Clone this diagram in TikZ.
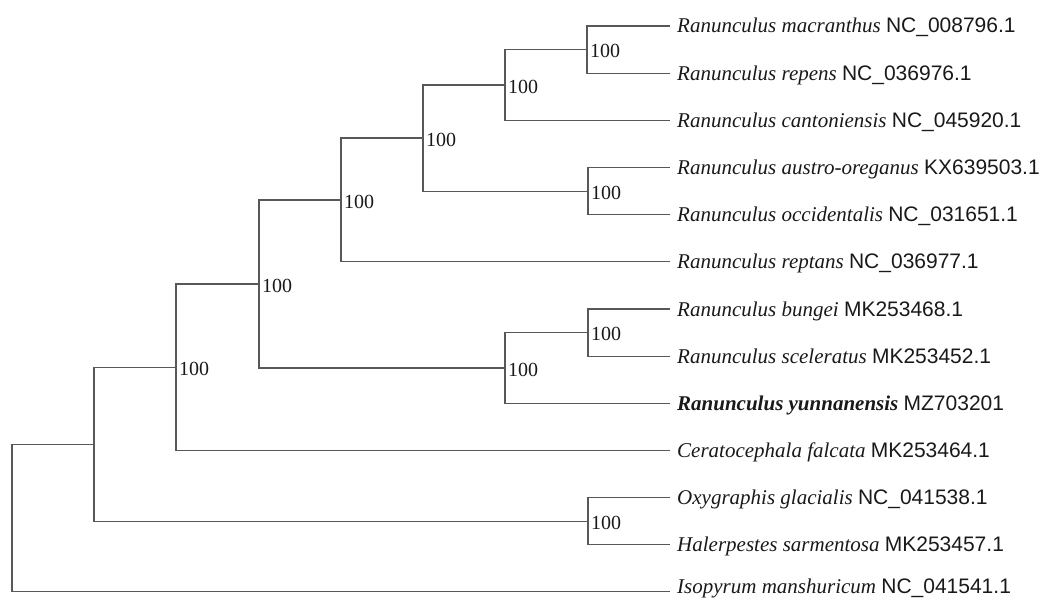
\documentclass[tikz,border=0pt]{standalone}
\usepackage{fontspec}
\setmainfont{Liberation Serif}
\newfontfamily\arial{Liberation Sans}
\definecolor{brc}{RGB}{88,88,88}
\definecolor{txt}{RGB}{25,25,25}
\begin{document}
\begin{tikzpicture}[x=1pt,y=-1pt,
  br/.style={draw=brc,line width=1.2pt},
  bs/.style={anchor=west,inner sep=0pt,font=\fontsize{20}{24}\selectfont,text=txt,xshift=3pt,yshift=-1.5pt},
  tiplab/.style={anchor=base west,inner sep=0pt,font=\fontsize{21}{24}\selectfont,text=txt}]
\useasboundingbox (0,0) rectangle (1047,599);
% tips
\coordinate (t1) at (670,26);
\coordinate (t2) at (670,73.2);
\coordinate (t3) at (670,120.3);
\coordinate (t4) at (670,167.5);
\coordinate (t5) at (670,214.7);
\coordinate (t6) at (670,261.8);
\coordinate (t7) at (670,309);
\coordinate (t8) at (670,356.2);
\coordinate (t9) at (670,403.3);
\coordinate (t10) at (670,450.5);
\coordinate (t11) at (670,497.7);
\coordinate (t12) at (670,544.8);
\coordinate (t13) at (670,591.5);
% internal nodes
\coordinate (A) at (587,49.6);
\coordinate (B) at (505,85);
\coordinate (C) at (588,191.1);
\coordinate (D) at (423,138);
\coordinate (E) at (341,200);
\coordinate (F) at (588,332.6);
\coordinate (G) at (505,368);
\coordinate (H) at (259,284);
\coordinate (I) at (176,367.2);
\coordinate (J) at (588,521.2);
\coordinate (K) at (94,444.2);
\coordinate (R) at (12,518.1);
% branches
\draw[br] (A) |- (t1); \draw[br] (A) |- (t2);
\draw[br] (B) |- (A);  \draw[br] (B) |- (t3);
\draw[br] (C) |- (t4); \draw[br] (C) |- (t5);
\draw[br] (D) |- (B);  \draw[br] (D) |- (C);
\draw[br] (E) |- (D);  \draw[br] (E) |- (t6);
\draw[br] (F) |- (t7); \draw[br] (F) |- (t8);
\draw[br] (G) |- (F);  \draw[br] (G) |- (t9);
\draw[br] (H) |- (E);  \draw[br] (H) |- (G);
\draw[br] (I) |- (H);  \draw[br] (I) |- (t10);
\draw[br] (J) |- (t11); \draw[br] (J) |- (t12);
\draw[br] (K) |- (I);  \draw[br] (K) |- (J);
\draw[br] (R) |- (K);  \draw[br] (R) |- (t13);
% support values
\node[bs] (sA) at (A) {100};
\node[bs] (sB) at (B) {100};
\node[bs] (sC) at (C) {100};
\node[bs] (sD) at (D) {100};
\node[bs] (sE) at (E) {100};
\node[bs] (sF) at (F) {100};
\node[bs] (sG) at (G) {100};
\node[bs] (sH) at (H) {100};
\node[bs] (sI) at (I) {100};
\node[bs] (sJ) at (J) {100};
% tip labels
\node[tiplab] (n1) at (677,33) {\textit{Ranunculus macranthus} {\arial NC\_008796.1}};
\node[tiplab] (n2) at (677,80.2) {\textit{Ranunculus repens} {\arial NC\_036976.1}};
\node[tiplab] (n3) at (677,127.3) {\textit{Ranunculus cantoniensis} {\arial NC\_045920.1}};
\node[tiplab] (n4) at (677,174.5) {\textit{Ranunculus austro-oreganus} {\arial KX639503.1}};
\node[tiplab] (n5) at (677,221.7) {\textit{Ranunculus occidentalis} {\arial NC\_031651.1}};
\node[tiplab] (n6) at (677,268.8) {\textit{Ranunculus reptans} {\arial NC\_036977.1}};
\node[tiplab] (n7) at (677,316) {\textit{Ranunculus bungei} {\arial MK253468.1}};
\node[tiplab] (n8) at (677,363.2) {\textit{Ranunculus sceleratus} {\arial MK253452.1}};
\node[tiplab] (n9) at (677,410.3) {\textbf{\textit{Ranunculus yunnanensis}} {\arial MZ703201}};
\node[tiplab] (n10) at (677,457.5) {\textit{Ceratocephala falcata} {\arial MK253464.1}};
\node[tiplab] (n11) at (677,504.7) {\textit{Oxygraphis glacialis} {\arial NC\_041538.1}};
\node[tiplab] (n12) at (677,551.8) {\textit{Halerpestes sarmentosa} {\arial MK253457.1}};
\node[tiplab] (n13) at (677,593.5) {\textit{Isopyrum manshuricum} {\arial NC\_041541.1}};
\end{tikzpicture}
\end{document}
